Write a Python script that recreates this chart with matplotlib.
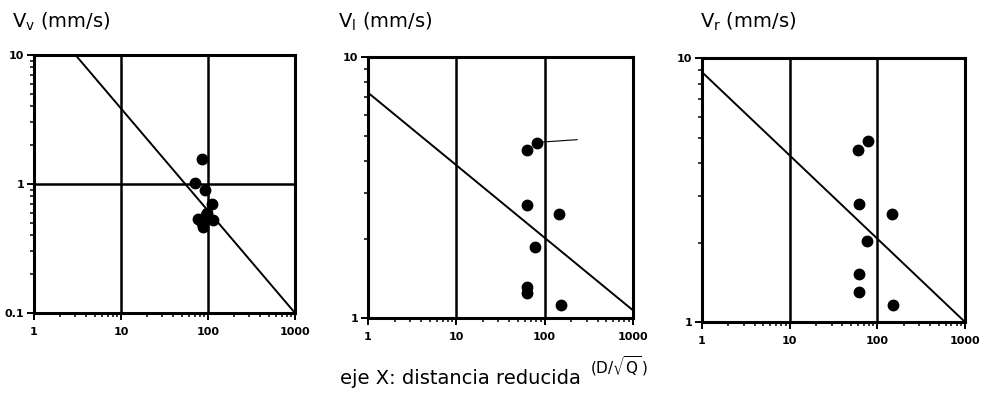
import matplotlib.pyplot as plt
from matplotlib.ticker import LogLocator, NullFormatter

plt.rcParams['font.family'] = ['DejaVu Sans']
plt.rcParams['mathtext.fontset'] = 'dejavusans'

# panel 1: V_v
vv_x = [85, 71, 92, 111, 77, 114, 87, 98, 85, 95]
vv_y = [1.55, 1.02, 0.9, 0.70, 0.54, 0.53, 0.46, 0.60, 0.50, 0.57]
vv_line_x = [3, 1000]
vv_line_y = [10, 0.1]

# panel 2: V_l
vl_x = [63, 82, 63, 146, 78, 63, 63, 152]
vl_y = [4.4, 4.7, 2.7, 2.5, 1.87, 1.32, 1.25, 1.12]
vl_line_x = [1, 1000]
vl_line_y = [7.3, 1.07]
vl_mark_x = [93, 233]
vl_mark_y = [4.72, 4.82]

# panel 3: V_r
vr_x = [60, 78, 62, 147, 76, 62, 62, 151]
vr_y = [4.5, 4.85, 2.8, 2.57, 2.03, 1.52, 1.3, 1.16]
vr_line_x = [1, 1000]
vr_line_y = [8.85, 1.0]

x_ticks = [1, 10, 100, 1000]
x_ticklabels = ['1', '10', '100', '1000']

fig = plt.figure(figsize=(9.82, 4.01), dpi=100)
ax1 = fig.add_axes([0.0346, 0.2195, 0.2658, 0.6434])
ax2 = fig.add_axes([0.3747, 0.207, 0.2699, 0.651])
ax3 = fig.add_axes([0.7149, 0.197, 0.2678, 0.658])


def style_axis(ax, ymin, yticks, ylabels):
    ax.set_xscale('log')
    ax.set_yscale('log')
    ax.set_xlim(1, 1000)
    ax.set_ylim(ymin, 10)
    ax.set_xticks(x_ticks)
    ax.set_xticklabels(x_ticklabels, fontsize=8, fontweight='bold')
    ax.set_yticks(yticks)
    ax.set_yticklabels(ylabels, fontsize=8, fontweight='bold')
    ax.xaxis.set_minor_locator(LogLocator(base=10, subs=range(2, 10)))
    ax.yaxis.set_minor_locator(LogLocator(base=10, subs=range(2, 10)))
    ax.xaxis.set_minor_formatter(NullFormatter())
    ax.yaxis.set_minor_formatter(NullFormatter())
    ax.tick_params(which='major', direction='out', length=5, width=1.4)
    ax.tick_params(axis='x', which='major', pad=5)
    ax.tick_params(axis='y', which='major', pad=2)
    ax.tick_params(which='minor', direction='out', length=3, width=1.1)
    for s in ax.spines.values():
        s.set_linewidth(2.2)
    for gx in [10, 100]:
        ax.axvline(gx, color='black', lw=1.8)


style_axis(ax1, 0.1, [0.1, 1, 10], ['0.1', '1', '10'])
ax1.axhline(1, color='black', lw=1.8)
ax1.plot(vv_line_x, vv_line_y, color='black', lw=1.4)
ax1.plot(vv_x, vv_y, 'o', color='black', ms=7.5)

style_axis(ax2, 1, [1, 10], ['1', '10'])
ax2.plot(vl_line_x, vl_line_y, color='black', lw=1.4)
ax2.plot(vl_mark_x, vl_mark_y, color='black', lw=0.8)
ax2.plot(vl_x, vl_y, 'o', color='black', ms=7.5)

style_axis(ax3, 1, [1, 10], ['1', '10'])
ax3.plot(vr_line_x, vr_line_y, color='black', lw=1.4)
ax3.plot(vr_x, vr_y, 'o', color='black', ms=7.5)

fig.text(0.012, 0.945, r'V$_{\mathrm{v}}$ (mm/s)', fontsize=14, va='center')
fig.text(0.344, 0.945, r'V$_{\mathrm{l}}$ (mm/s)', fontsize=14, va='center')
fig.text(0.713, 0.945, r'V$_{\mathrm{r}}$ (mm/s)', fontsize=14, va='center')

fig.text(0.346, 0.055, 'eje X: distancia reducida', fontsize=14, va='center')
fig.text(0.601, 0.087, r'$\mathrm{(D/\sqrt{Q}\,)}$', fontsize=11, va='center')

fig.savefig('out.png', dpi=100)
